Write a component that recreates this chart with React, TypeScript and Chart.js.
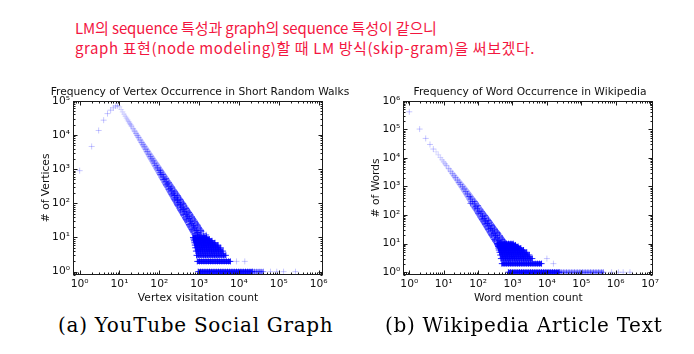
import { useEffect, useRef } from 'react';
import { Chart, registerables } from 'chart.js';

Chart.register(...registerables);

// ---------------- (a) YouTube Social Graph ----------------
const ytXTicks = [1, 10, 100, 1000, 10000, 100000, 1000000];
const ytYTicks = [1, 10, 100, 1000, 10000, 100000];

const ytHeadX = [1, 2, 3, 4, 5, 6, 7, 8, 9];
const ytHeadY = [900, 4600, 13500, 27000, 42000, 53000, 62000, 70000, 71000];

const ytLineX = [10, 11, 12, 13, 14, 15, 16, 17, 18, 19, 20, 22, 24, 26, 28, 30, 33, 36, 39, 42, 46, 50, 55, 60, 65, 70, 76, 83, 90, 98, 106, 115, 125, 136, 148, 160, 174, 190, 206, 224, 243, 264, 287, 312, 340, 370, 400, 435, 475, 515, 560, 610, 660, 720, 780, 850, 920, 1000];
const ytLineY = [66000, 55300, 47000, 40500, 35200, 31000, 27400, 24500, 22000, 19900, 18100, 15100, 12900, 11100, 9640, 8470, 7090, 6020, 5190, 4520, 3810, 3260, 2730, 2320, 2000, 1740, 1490, 1260, 1090, 925, 800, 687, 588, 502, 428, 370, 316, 268, 231, 197, 169, 145, 124, 106, 90, 77, 67, 57, 48, 42, 36, 30, 26, 22, 19, 16, 14, 12];

const ytSpreadX = [106, 106, 125, 125, 148, 148, 174, 174, 206, 206, 243, 243, 287, 287, 340, 340, 400, 400, 475, 475, 560, 560, 660, 660, 780, 780, 920, 920, 1100, 1100, 1100, 1300, 1300, 1500, 1500];
const ytSpreadY = [920, 700, 700, 495, 530, 345, 400, 250, 300, 178, 225, 127, 170, 90, 127, 64, 97, 46, 70, 33, 54, 24, 40, 17, 30, 13, 23, 11, 16, 12, 11, 13, 11, 12, 11];

const ytRow1Dense = [950, 1080, 1230, 1400, 1600, 1820, 2070, 2360, 2690, 3060, 3490, 3970, 4520, 5150, 5870, 6680, 7610, 8670, 9870, 11200, 12800, 14600, 16600, 18900, 21500];
const ytRow1Mid = [21500, 24500, 28000, 32000, 36000, 41000];
const ytRow1Sparse = [62000, 89000, 132000, 263000];
const ytRow2 = [900, 1020, 1160, 1320, 1500, 1710, 1950, 2220, 2530, 2880, 3280, 3730, 4250, 4840, 5500, 6100];
const ytRow2Sparse = [8700, 14000];
const ytRow3 = [860, 980, 1110, 1270, 1440, 1640, 1870, 2130, 2420, 2760, 3140, 3580, 4080, 4700];
const ytRow4 = [830, 940, 1070, 1220, 1390, 1580, 1800, 2050, 2340, 2660, 3030, 3500, 4000];
const ytRow5 = [800, 910, 1040, 1180, 1340, 1530, 1740, 1980, 2260, 2570, 2950, 3500];
const ytRow6 = [780, 890, 1010, 1150, 1310, 1490, 1700, 1930, 2200, 2550, 3000];
const ytRow7 = [760, 860, 980, 1120, 1280, 1450, 1650, 1880, 2150, 2500];
const ytRow8 = [740, 840, 960, 1090, 1240, 1410, 1610, 1840, 2100];
const ytRow9 = [720, 820, 930, 1060, 1210, 1380, 1570, 1800];
const ytRow10 = [700, 800, 910, 1040, 1180, 1350, 1540];

// ---------------- (b) Wikipedia Article Text ----------------
const wkXTicks = [1, 10, 100, 1000, 10000, 100000, 1000000, 10000000];
const wkYTicks = [1, 10, 100, 1000, 10000, 100000, 1000000];

const wkHeadX = [1, 2, 3, 4, 5];
const wkHeadY = [410000, 102000, 48000, 29500, 20400];

const wkLineX = [6, 7, 8, 9, 10, 11, 12, 14, 16, 18, 20, 22, 25, 28, 31, 35, 39, 44, 49, 55, 62, 69, 77, 86, 96, 107, 120, 134, 150, 167, 186, 208, 232, 259, 289, 322, 360, 400, 450, 500];
const wkLineY = [16400, 12800, 10300, 8560, 7230, 6210, 5400, 4220, 3400, 2820, 2380, 2050, 1670, 1390, 1180, 973, 819, 664, 547, 447, 361, 298, 246, 201, 166, 137, 111, 91, 75, 62, 51, 42, 34, 28, 23, 19, 16, 13, 10.6, 8.8];

const wkSpreadX = [60, 60, 80, 80, 100, 100, 130, 130, 160, 160, 200, 200, 250, 250, 300, 300, 360, 360, 420, 420, 500, 500, 580, 580, 680, 680, 800, 800, 950, 1100];
const wkSpreadY = [430, 255, 300, 177, 215, 116, 131, 72, 95, 49, 64, 32, 44, 20, 32, 14, 25, 10, 19, 8, 14, 6, 11, 5, 9, 4, 7, 3, 6, 5];

const wkRow1Dense = [760, 880, 1020, 1180, 1370, 1590, 1840, 2130, 2470, 2860, 3320, 3850, 4460, 5170, 6000, 6950, 8060, 9340, 10800, 12500, 14500, 16800, 19500, 22600];
const wkRow1Mid = [22600, 26000, 31000, 37000, 44000, 53000, 63000, 76000, 91000, 109000, 130000, 156000, 187000, 224000, 268000, 320000, 384000, 440000];
const wkRow1Sparse = [760000, 1200000, 1650000, 2600000];
const wkRow2 = [490, 570, 660, 770, 890, 1030, 1200, 1390, 1610, 1870, 2170, 2520, 2920, 3390, 3930, 4560, 5290, 6140, 7000];
const wkRow3 = [460, 540, 630, 730, 850, 990, 1150, 1330, 1550, 1800, 2090, 2420, 2810, 3260, 3780];
const wkRow4 = [440, 510, 600, 700, 810, 940, 1090, 1270, 1470, 1710, 1980, 2300, 2700, 3100];
const wkRow5 = [420, 490, 570, 660, 770, 900, 1040, 1210, 1400, 1630, 1890, 2200, 2600];
const wkRow6 = [400, 470, 540, 630, 740, 860, 1000, 1160, 1350, 1560, 1800, 2100];
const wkRow7 = [390, 450, 520, 610, 710, 820, 950, 1100, 1280, 1500, 1750];
const wkRow8 = [380, 440, 510, 590, 690, 800, 930, 1080, 1250, 1450];
const wkRow9 = [370, 430, 500, 580, 670, 780, 900, 1050, 1220];
const wkRow10 = [360, 420, 490, 570, 660, 770, 900, 1050];
const wkSparseX = [10000, 15500];
const wkSparseY = [3, 2];

// ---------------- helpers ----------------
type P = { x: number; y: number };
const pts = (xs: number[], ys: number[]): P[] => xs.map((x, i) => ({ x, y: ys[i] }));
const row = (xs: number[], y: number): P[] => xs.map((x) => ({ x, y }));

const SUP = '⁰¹²³⁴⁵⁶⁷⁸⁹';
const pow10Label = (v: number) => {
  const e = Math.round(Math.log10(v));
  return '10' + String(e).split('').map((d) => SUP[Number(d)]).join('');
};
const blue = (a: number) => `rgba(0,0,255,${a})`;
const clamp = (v: number, lo: number, hi: number) => Math.max(lo, Math.min(hi, v));

function crossSet(data: P[], color: any, lineWidth = 0) {
  return {
    data,
    pointStyle: 'cross',
    pointRadius: 3,
    pointHoverRadius: 3,
    pointBorderWidth: 1,
    pointBorderColor: color,
    pointBackgroundColor: color,
    borderColor: color,
    backgroundColor: color,
    borderWidth: lineWidth,
    borderCapStyle: 'butt',
    showLine: lineWidth > 0,
  };
}

// main diagonal: the band gets thicker and darker as the count grows
function bandSet(xs: number[], ys: number[], logStart: number, widthGain: number, alphaGain: number) {
  const alphaAt = (x: number) => clamp(0.05 + alphaGain * Math.pow(Math.max(0, Math.log10(x) - logStart), 1.4), 0.05, 0.9);
  const widthAt = (x: number) => clamp(3 + widthGain * (Math.log10(x) - logStart), 3, 14);
  return {
    data: pts(xs, ys),
    showLine: true,
    borderWidth: 3,
    borderCapStyle: 'butt',
    borderColor: blue(0.1),
    segment: {
      borderWidth: (c: any) => widthAt(xs[c.p0DataIndex]),
      borderColor: (c: any) => blue(alphaAt(xs[c.p0DataIndex]) * 0.75),
    },
    pointStyle: 'cross',
    pointRadius: 3,
    pointHoverRadius: 3,
    pointBorderWidth: 1,
    pointBorderColor: (c: any) => blue(clamp(alphaAt(xs[c.dataIndex] ?? 10) * 0.8 + 0.06, 0.08, 0.9)),
    pointBackgroundColor: blue(0.1),
  };
}

const framePlugin = {
  id: 'mplFrame',
  afterDatasetsDraw(chart: any) {
    const { ctx, chartArea: a, scales } = chart;
    const L = Math.round(a.left) + 0.5;
    const R = Math.round(a.right) - 0.5;
    const T = Math.round(a.top) + 0.5;
    const B = Math.round(a.bottom) - 0.5;
    ctx.save();
    ctx.strokeStyle = '#1a1a1a';
    ctx.lineWidth = 1;
    ctx.strokeRect(L, T, R - L, B - T);
    ctx.beginPath();
    const tickLoop = (scale: any, cb: (p: number, len: number) => void) => {
      const lo = Math.floor(Math.log10(scale.min));
      const hi = Math.ceil(Math.log10(scale.max));
      for (let k = lo; k <= hi; k++) {
        for (let m = 1; m <= 9; m++) {
          const v = m * Math.pow(10, k);
          if (v < scale.min || v > scale.max) continue;
          cb(Math.round(scale.getPixelForValue(v)) + 0.5, m === 1 ? 4 : 2);
        }
      }
    };
    tickLoop(scales.x, (p, len) => {
      ctx.moveTo(p, B); ctx.lineTo(p, B - len);
      ctx.moveTo(p, T); ctx.lineTo(p, T + len);
    });
    tickLoop(scales.y, (p, len) => {
      ctx.moveTo(L, p); ctx.lineTo(L + len, p);
      ctx.moveTo(R, p); ctx.lineTo(R - len, p);
    });
    ctx.stroke();
    ctx.restore();
  },
};

const FONT = { family: 'DejaVu Sans', size: 10.7, weight: 'normal' };

function buildConfig(o: any) {
  return {
    type: 'scatter',
    data: { datasets: o.datasets },
    plugins: [framePlugin],
    options: {
      animation: false,
      responsive: false,
      events: [],
      layout: { padding: { left: o.padLeft, right: 0, top: 0, bottom: 0 } },
      plugins: {
        legend: { display: false },
        tooltip: { enabled: false },
        title: {
          display: true,
          text: o.title,
          color: '#111',
          font: FONT,
          padding: { top: 6, bottom: 1.9 },
        },
      },
      scales: {
        x: {
          type: 'logarithmic',
          bounds: 'data',
          min: o.xMin,
          max: o.xMax,
          afterBuildTicks: (s: any) => {
            s.ticks = o.xTicks.map((v: number) => ({ value: v }));
          },
          ticks: {
            callback: (v: any) => pow10Label(Number(v)),
            font: FONT,
            color: '#111',
            padding: 3,
            maxRotation: 0,
            autoSkip: false,
          },
          grid: { display: false, drawTicks: false },
          border: { display: false },
          title: {
            display: true,
            text: o.xTitle,
            color: '#111',
            font: FONT,
            padding: { top: 0, bottom: 5 },
          },
          afterFit: (s: any) => {
            s.height = 35;
            s.paddingLeft = 0;
            s.paddingRight = 0;
          },
        },
        y: {
          type: 'logarithmic',
          bounds: 'data',
          min: o.yMin,
          max: o.yMax,
          afterBuildTicks: (s: any) => {
            s.ticks = o.yTicks.map((v: number) => ({ value: v }));
          },
          ticks: {
            callback: (v: any) => pow10Label(Number(v)),
            font: FONT,
            color: '#111',
            padding: 3,
            autoSkip: false,
          },
          grid: { display: false, drawTicks: false },
          border: { display: false },
          title: {
            display: true,
            text: o.yTitle,
            color: '#111',
            font: FONT,
            padding: { top: o.yTitlePad, bottom: 0 },
          },
          afterFit: (s: any) => {
            s.width = o.leftW;
            s.paddingTop = 0;
            s.paddingBottom = 0;
          },
        },
        side: {
          type: 'linear',
          position: 'right',
          min: 0,
          max: 1,
          display: true,
          ticks: { display: false },
          grid: { display: false, drawTicks: false },
          border: { display: false },
          afterFit: (s: any) => {
            s.width = o.rightW;
            s.paddingTop = 0;
            s.paddingBottom = 0;
          },
        },
      },
    },
  };
}

const ROW = 5;

const ytConfig = () =>
  buildConfig({
    title: 'Frequency of Vertex Occurrence in Short Random Walks',
    xTitle: 'Vertex visitation count',
    yTitle: '# of Vertices',
    xMin: 0.68,
    xMax: 1.29e6,
    yMin: 0.8,
    yMax: 1e5,
    xTicks: ytXTicks,
    yTicks: ytYTicks,
    padLeft: 0,
    leftW: 73,
    rightW: 77,
    yTitlePad: 40,
    datasets: [
      crossSet(pts(ytHeadX, ytHeadY), blue(0.22)),
      bandSet(ytLineX, ytLineY, 1, 5, 0.5),
      crossSet(pts(ytSpreadX, ytSpreadY), blue(0.5)),
      crossSet(row(ytRow1Dense, 1), blue(0.9), ROW),
      crossSet(row(ytRow1Mid, 1), blue(0.45), ROW),
      crossSet(row(ytRow1Sparse, 1), blue(0.22)),
      crossSet(row(ytRow2, 2), blue(0.9), ROW),
      crossSet(row(ytRow2Sparse, 2), blue(0.22)),
      crossSet(row(ytRow3, 3), blue(0.85), ROW),
      crossSet(row(ytRow4, 4), blue(0.85), ROW),
      crossSet(row(ytRow5, 5), blue(0.85), ROW),
      crossSet(row(ytRow6, 6), blue(0.85), ROW),
      crossSet(row(ytRow7, 7), blue(0.85), ROW),
      crossSet(row(ytRow8, 8), blue(0.85), ROW),
      crossSet(row(ytRow9, 9), blue(0.85), ROW),
      crossSet(row(ytRow10, 10), blue(0.85), ROW),
    ],
  });

const wkConfig = () =>
  buildConfig({
    title: 'Frequency of Word Occurrence in Wikipedia',
    xTitle: 'Word mention count',
    yTitle: '# of Words',
    xMin: 0.67,
    xMax: 1.24e7,
    yMin: 0.8,
    yMax: 1e6,
    xTicks: wkXTicks,
    yTicks: wkYTicks,
    padLeft: 26,
    leftW: 37.3,
    rightW: 40.7,
    yTitlePad: 3.4,
    datasets: [
      crossSet(pts(wkHeadX, wkHeadY), blue(0.22)),
      bandSet(wkLineX, wkLineY, 0.78, 5, 0.5),
      crossSet(pts(wkSpreadX, wkSpreadY), blue(0.5)),
      crossSet(row(wkRow1Dense, 1), blue(0.9), ROW),
      crossSet(row(wkRow1Mid, 1), blue(0.4), ROW),
      crossSet(row(wkRow1Sparse, 1), blue(0.22)),
      crossSet(row(wkRow2, 2), blue(0.9), ROW),
      crossSet(row(wkRow3, 3), blue(0.85), ROW),
      crossSet(row(wkRow4, 4), blue(0.85), ROW),
      crossSet(row(wkRow5, 5), blue(0.85), ROW),
      crossSet(row(wkRow6, 6), blue(0.85), ROW),
      crossSet(row(wkRow7, 7), blue(0.85), ROW),
      crossSet(row(wkRow8, 8), blue(0.85), ROW),
      crossSet(row(wkRow9, 9), blue(0.85), ROW),
      crossSet(row(wkRow10, 10), blue(0.85), ROW),
      crossSet(pts(wkSparseX, wkSparseY), blue(0.22)),
    ],
  });

function Plot({ make, left, top, width, height }: any) {
  const ref = useRef<HTMLCanvasElement>(null);
  useEffect(() => {
    const chart = new Chart(ref.current as HTMLCanvasElement, make() as any);
    return () => chart.destroy();
  }, [make]);
  return (
    <canvas
      ref={ref}
      width={width}
      height={height}
      style={{ position: 'absolute', left, top, width, height, display: 'block' }}
    />
  );
}

const noteStyle: any = {
  position: 'absolute',
  left: 75,
  fontFamily: '"Noto Sans CJK KR", sans-serif',
  fontSize: 15,
  lineHeight: '20px',
  color: '#f3163f',
  whiteSpace: 'nowrap',
};

const capStyle: any = {
  position: 'absolute',
  top: 312,
  fontFamily: '"DejaVu Serif", serif',
  fontSize: 20,
  letterSpacing: '0.7px',
  lineHeight: '26px',
  color: '#000',
  whiteSpace: 'nowrap',
};

export default function App() {
  return (
    <div
      style={{
        position: 'fixed',
        left: 0,
        top: 0,
        width: 694,
        height: 354,
        background: '#fff',
        overflow: 'hidden',
      }}
    >
      <div style={{ ...noteStyle, top: 18, letterSpacing: '-0.12px' }}>LM의 sequence 특성과 graph의 sequence 특성이 같으니</div>
      <div style={{ ...noteStyle, top: 38, letterSpacing: '0.6px' }}>graph 표현(node modeling)할 때 LM 방식(skip-gram)을 써보겠다.</div>
      <Plot make={ytConfig} left={0} top={80} width={400} height={230} />
      <Plot make={wkConfig} left={340} top={80} width={354} height={230} />
      <div style={{ ...capStyle, left: 58 }}>(a) YouTube Social Graph</div>
      <div style={{ ...capStyle, left: 385 }}>(b) Wikipedia Article Text</div>
    </div>
  );
}
